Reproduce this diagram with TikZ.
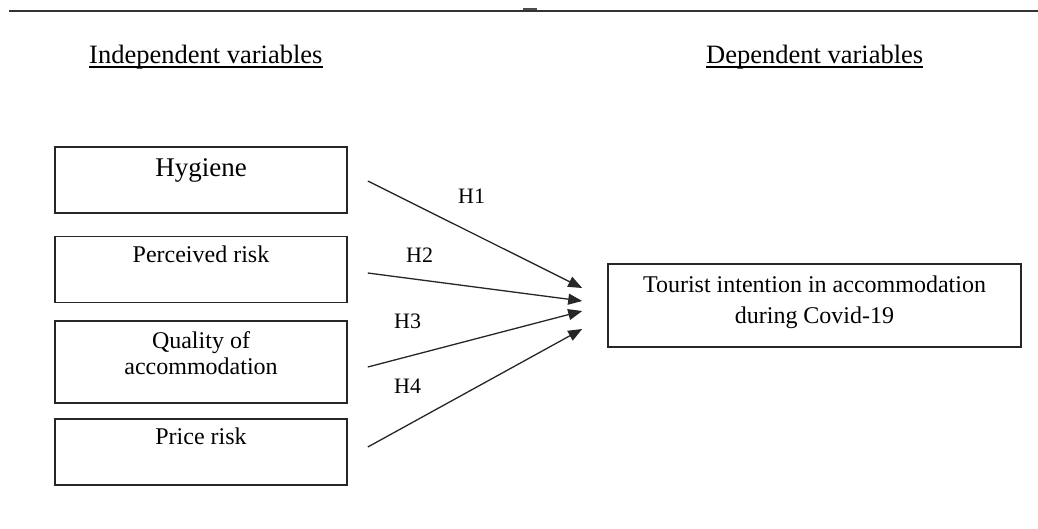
\documentclass[tikz,border=0pt]{standalone}
\usepackage{fontspec}
\setmainfont{Liberation Serif}
\usetikzlibrary{arrows.meta, positioning, calc}

\tikzset{
  varbox/.style={draw=black!85, line width=1.6pt, minimum width=292pt, inner sep=0pt},
  boxtext/.style={inner sep=0pt, anchor=base, align=center, font=\fontsize{24}{26}\selectfont},
  heading/.style={inner sep=0pt, anchor=base west, font=\fontsize{26.5}{30}\selectfont},
  hyp/.style={line width=1.3pt, draw=black!85, -{Triangle[length=14pt,width=11pt]}},
  hlabel/.style={inner sep=0pt, anchor=base west, font=\fontsize{22}{24}\selectfont}
}

\begin{document}
\begin{tikzpicture}[x=1pt,y=-1pt]
    \useasboundingbox (0,0) rectangle (1038,528);
    % top rule
    \draw[line width=2.2pt, black!80] (9,11)--(1038,11);
    \draw[line width=2.5pt, black!70] (523,9)--(537,9);

    % headings
    \node[heading] (indep) at (89,63) {Independent variables};
    \node[heading] (dep) at (706,63) {Dependent variables};
    \draw[line width=1.3pt] ([yshift=-4pt]indep.base west)--([yshift=-4pt]indep.base east);
    \draw[line width=1.3pt] ([yshift=-4pt]dep.base west)--([yshift=-4pt]dep.base east);

    % independent variables
    \node[varbox, minimum height=66pt] (hyg) at (201,180) {};
    \node[varbox, minimum height=66pt] (risk) at (201,269.5) {};
    \node[varbox, minimum height=82pt] (qual) at (201,362) {};
    \node[varbox, minimum height=66pt] (price) at (201,452) {};
    \node[boxtext, font=\fontsize{27}{29}\selectfont] (hygtxt) at (201,176) {Hygiene};
    \node[boxtext] (risktxt) at (201,262) {Perceived risk};
    \node[boxtext] (qualtxt) at (201,374) {Quality of\\accommodation};
    \node[boxtext] (pricetxt) at (201,444) {Price risk};

    % dependent variable
    \node[varbox, minimum width=413pt, minimum height=83pt] (intent) at (814.5,305.5) {};
    \node[boxtext, font=\fontsize{24}{31}\selectfont] (intenttxt) at (814.5,323) {Tourist intention in accommodation\\during Covid-19};

    % hypotheses
    \foreach \src/\sy/\dy/\lx/\ly/\lab in {hyg/-1/17.5/458/203/H1, risk/-3.5/4.5/406/262/H2,
                                          qual/-5/-5.5/394/328/H3, price/5/-23.5/394/393/H4} {
        \draw[hyp] ([xshift=20pt,yshift=\sy pt]\src.east) -- ([xshift=-25pt,yshift=\dy pt]intent.west);
        \node[hlabel] (\lab) at (\lx,\ly) {\lab};
    }
\end{tikzpicture}
\end{document}
